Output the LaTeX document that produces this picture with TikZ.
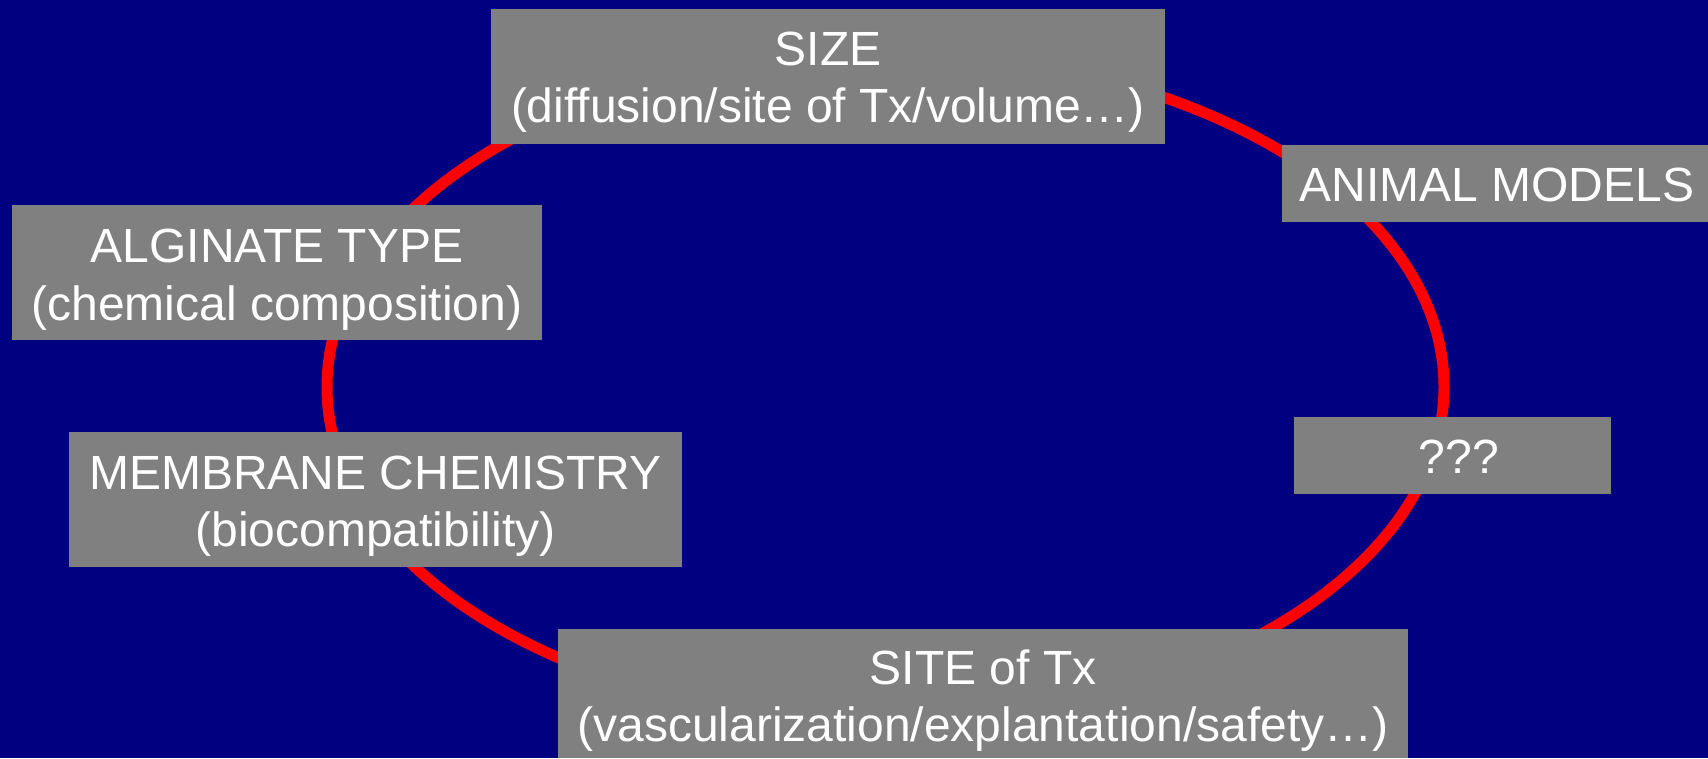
\documentclass[tikz,border=0pt]{standalone}
\usepackage{fontspec}
\setmainfont{Liberation Sans}
\definecolor{navybg}{RGB}{0,0,128}
\definecolor{boxgray}{RGB}{128,128,128}
\begin{document}
\begin{tikzpicture}[x=1pt,y=-1pt,
  box/.style={fill=boxgray, inner sep=0pt, anchor=north west},
  txt/.style={text=white, font=\fontsize{48}{57}\selectfont, inner sep=0pt, anchor=base}]
\fill[navybg] (0,0) rectangle (1708,758);
\useasboundingbox (0,0) rectangle (1708,758);
\draw[red, line width=11pt] (885.5,387) ellipse [x radius=558.5, y radius=334];
% boxes
\node[box, minimum width=674pt, minimum height=135pt] (size) at (491,9) {};
\node[box, minimum width=426pt, minimum height=77pt] (animal) at (1282,145) {};
\node[box, minimum width=530pt, minimum height=135pt] (alginate) at (12,205) {};
\node[box, minimum width=613pt, minimum height=135pt] (membrane) at (69,432) {};
\node[box, minimum width=317pt, minimum height=77pt] (qqq) at (1294,417) {};
\node[box, minimum width=850pt, minimum height=129pt] (site) at (558,629) {};
% texts
\node[txt] (sizeA) at (828,65) {SIZE};
\node[txt] (sizeB) at (828,122) {(diffusion/site of Tx/volume…)};
\node[txt] (animalA) at (1497,201) {ANIMAL MODELS};
\node[txt] (alginateA) at (277,262) {ALGINATE TYPE};
\node[txt] (alginateB) at (277,320) {(chemical composition)};
\node[txt] (membraneA) at (375.5,489) {MEMBRANE CHEMISTRY};
\node[txt] (membraneB) at (375.5,546) {(biocompatibility)};
\node[txt] (qqqA) at (1459,473) {???};
\node[txt] (siteA) at (983,684) {SITE of Tx};
\node[txt] (siteB) at (983,741) {(vascularization/explantation/safety…)};
\end{tikzpicture}
\end{document}
